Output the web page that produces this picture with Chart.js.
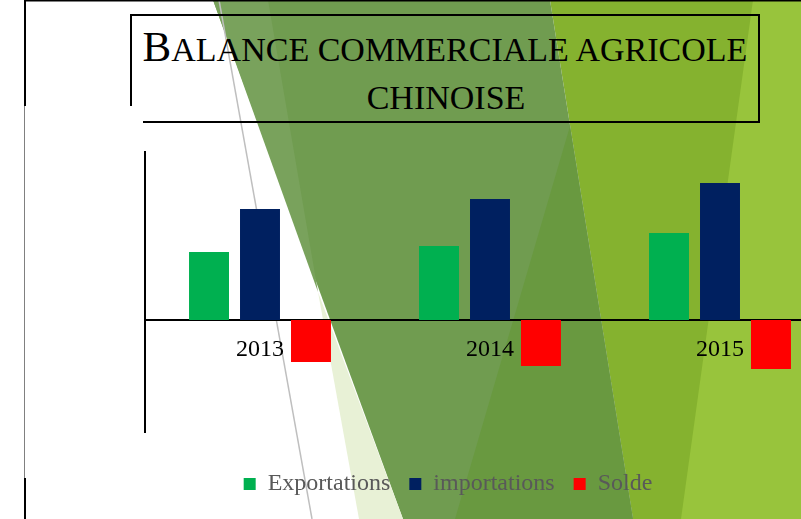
<!DOCTYPE html>
<html>
<head>
<meta charset="utf-8">
<script src="https://cdn.jsdelivr.net/npm/chart.js@4/dist/chart.umd.min.js"></script>
<style>
  html, body { margin: 0; padding: 0; background: #fff; overflow: hidden; }
  #stage { position: relative; width: 801px; height: 519px; overflow: hidden; background: #fff; }
  #bg { position: absolute; left: 0; top: 0; }
  #wrap { position: absolute; left: 0; top: 0; width: 840px; height: 519px; }
</style>
</head>
<body>
<div id="stage">
  <svg id="bg" width="801" height="519" viewBox="0 0 801 519" xmlns="http://www.w3.org/2000/svg">
    <polygon points="550,0 801,0 801,519 633,519" fill="#85b22f"/>
    <polygon points="213,0 550,0 633,519 403,519" fill="#709c50"/>
    <polygon points="213,0 268,0 318,292" fill="#79a25c"/>
    <polygon points="318,292 359,519 403,519" fill="#e8f1d6"/>
    <polygon points="570,126 633,519 455,519" fill="#699940"/>
    <polygon points="753,0 801,0 801,519 681,519" fill="#98c43c"/>
    <line x1="219" y1="0" x2="312" y2="519" stroke="#bfbfbf" stroke-width="1.5"/>
    <line x1="25" y1="0.75" x2="801" y2="0.75" stroke="#000" stroke-width="1.5"/>
    <line x1="25" y1="0" x2="25" y2="106" stroke="#000" stroke-width="2"/>
    <line x1="24.5" y1="106" x2="24.5" y2="519" stroke="#808080" stroke-width="1"/>
    <line x1="25" y1="478" x2="25" y2="519" stroke="#000" stroke-width="2"/>
    <line x1="130" y1="15" x2="760" y2="15" stroke="#000" stroke-width="2"/>
    <line x1="759" y1="14" x2="759" y2="123" stroke="#000" stroke-width="2"/>
    <line x1="143" y1="122" x2="760" y2="122" stroke="#000" stroke-width="2"/>
    <line x1="131" y1="14" x2="131" y2="106" stroke="#000" stroke-width="2"/>
    <text x="445" y="61" text-anchor="middle" font-family="'Liberation Serif', 'Times New Roman', serif" fill="#000"><tspan font-size="43">B</tspan><tspan font-size="34">ALANCE COMMERCIALE AGRICOLE</tspan></text>
    <text x="446" y="109" text-anchor="middle" font-family="'Liberation Serif', 'Times New Roman', serif" font-size="34" fill="#000">CHINOISE</text>
  </svg>
  <div id="wrap"><canvas id="c" width="840" height="519"></canvas></div>
</div>
<script>
const categories = ['2013', '2014', '2015'];
const exportations = [68, 74, 87];
const importations = [111, 121, 137];
const solde = [-42, -46, -49];
const seriesNames = ['Exportations', 'importations', 'Solde'];
const seriesColors = ['#00b050', '#002060', '#ff0000'];
const yMin = -112;
const yMax = 168;

const serif = '"Liberation Serif", "Times New Roman", serif';

new Chart(document.getElementById('c'), {
  type: 'bar',
  data: {
    labels: categories,
    datasets: [
      { label: seriesNames[0], data: exportations, backgroundColor: seriesColors[0] },
      { label: seriesNames[1], data: importations, backgroundColor: seriesColors[1] },
      { label: seriesNames[2], data: solde, backgroundColor: seriesColors[2] }
    ]
  },
  options: {
    responsive: false,
    animation: false,
    devicePixelRatio: 1,
    layout: { padding: { left: 61, right: 5, top: 152, bottom: 13 } },
    datasets: { bar: { categoryPercentage: 0.665, barPercentage: 0.784, borderWidth: 0 } },
    scales: {
      x: {
        type: 'category',
        position: { y: 0 },
        grid: { display: false, drawTicks: false },
        border: { display: true, color: '#000', width: 2 },
        ticks: { color: '#000', font: { family: serif, size: 24 }, padding: 15 }
      },
      y: {
        min: yMin,
        max: yMax,
        ticks: { display: false },
        grid: { display: false, drawTicks: false },
        border: { display: true, color: '#000', width: 2 },
        afterFit: (s) => { s.width = 84; }
      }
    },
    plugins: {
      title: { display: false },
      tooltip: { enabled: false },
      legend: {
        display: true,
        position: 'bottom',
        title: { display: true, text: '', padding: 0, font: { size: 21, lineHeight: 1 } },
        labels: {
          boxWidth: 12,
          boxHeight: 12,
          padding: 19,
          color: '#595959',
          font: { family: serif, size: 24 }
        }
      }
    }
  }
});
</script>
</body>
</html>
